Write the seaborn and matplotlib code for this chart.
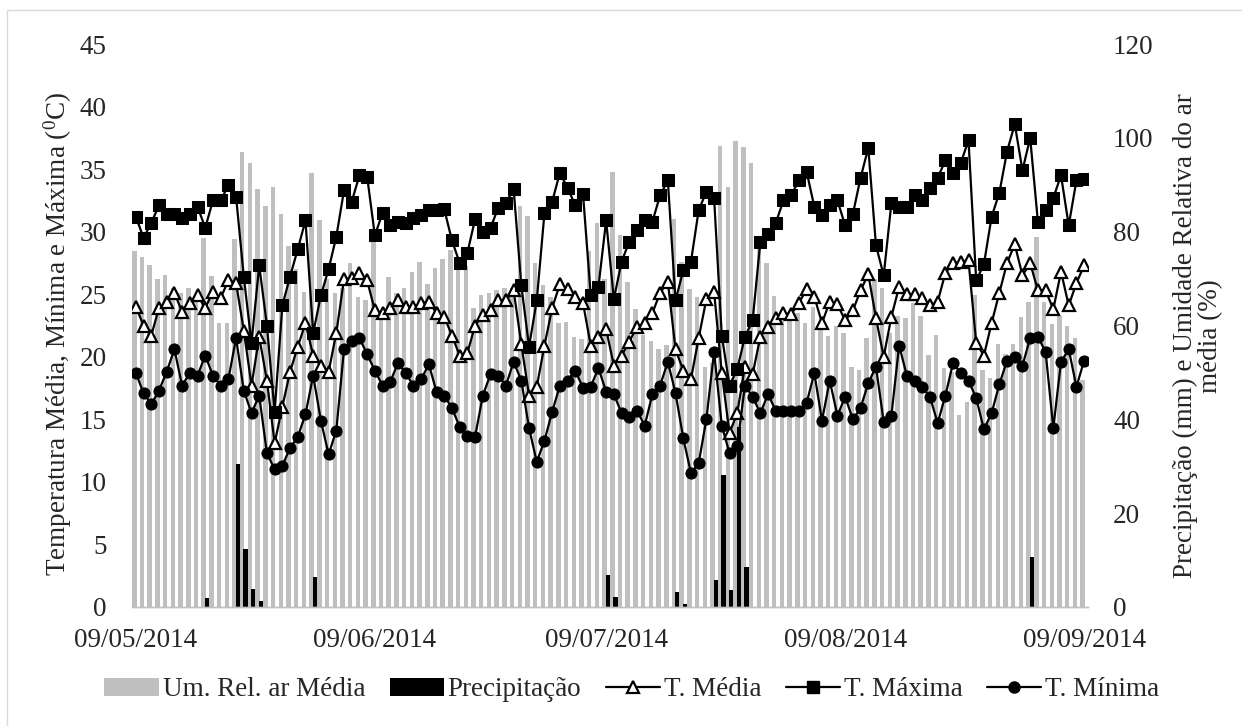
import numpy as np
import pandas as pd
import seaborn as sns
import matplotlib.pyplot as plt
from matplotlib.patches import Patch, Rectangle
from matplotlib.lines import Line2D

sns.set_style("white")
plt.rcParams["font.family"] = ["Liberation Serif", "DejaVu Serif"]

# ---------------------------------------------------------------- dados ---
# diario, de 09/05/2014 a 09/09/2014
datas = pd.date_range("2014-05-09", "2014-09-09", freq="D")

t_max = [31.2, 29.5, 30.7, 32.1, 31.4, 31.4, 31.1, 31.4, 32.0, 30.3,
         32.5, 32.5, 33.7, 32.8, 26.4, 21.1, 27.3, 22.5, 15.6, 24.1,
         26.4, 28.6, 30.9, 21.9, 24.9, 27.0, 29.6, 33.3, 32.4, 34.5,
         34.4, 29.7, 31.5, 30.5, 30.8, 30.7, 31.1, 31.3, 31.7, 31.7,
         31.8, 29.3, 27.5, 28.3, 31.0, 30.0, 30.3, 31.9, 32.3, 33.4,
         25.7, 20.8, 24.5, 31.5, 32.4, 34.7, 33.5, 32.1, 33.0, 24.9,
         25.6, 30.9, 24.6, 27.6, 29.2, 30.1, 30.9, 30.8, 32.9, 34.1,
         24.5, 26.9, 27.6, 31.7, 33.2, 32.7, 21.7, 17.7, 19.0, 21.6,
         22.9, 29.2, 29.8, 30.7, 32.5, 32.9, 34.1, 34.8, 32.0, 31.3,
         32.1, 32.5, 30.5, 31.4, 34.3, 36.7, 28.9, 26.5, 32.3, 32.0,
         32.0, 32.9, 32.5, 33.5, 34.3, 35.7, 34.7, 35.5, 37.3, 26.1,
         27.4, 31.2, 33.1, 36.4, 38.6, 34.9, 37.5, 30.8, 31.7, 32.7,
         34.5, 30.5, 34.1, 34.2]

t_media = [24.0, 22.5, 21.7, 23.9, 24.4, 25.1, 23.6, 24.3, 24.9, 23.9,
           25.2, 24.7, 26.1, 25.9, 22.1, 17.7, 21.6, 18.1, 13.1, 16.0,
           18.8, 20.8, 22.7, 20.1, 19.3, 18.8, 21.9, 26.2, 26.3, 26.7,
           26.1, 23.7, 23.5, 23.9, 24.5, 24.0, 24.0, 24.3, 24.4, 23.5,
           23.2, 21.7, 20.1, 20.3, 22.5, 23.3, 23.7, 24.5, 24.5, 25.3,
           21.0, 16.9, 17.6, 20.9, 23.9, 25.8, 25.4, 24.8, 24.3, 20.9,
           21.6, 22.2, 19.3, 20.1, 21.2, 22.4, 22.7, 23.5, 25.1, 26.0,
           20.6, 18.9, 18.2, 21.5, 24.6, 25.2, 18.7, 13.9, 15.5, 19.2,
           18.6, 21.6, 22.4, 23.1, 23.5, 23.4, 24.3, 25.4, 24.8, 22.7,
           24.4, 24.2, 22.9, 23.7, 25.3, 26.6, 23.1, 20.0, 23.2, 25.6,
           25.0, 25.0, 24.7, 24.1, 24.4, 26.7, 27.5, 27.6, 27.7, 21.1,
           20.1, 22.7, 25.1, 27.5, 29.0, 26.5, 27.5, 25.3, 25.3, 23.8,
           26.8, 24.1, 25.9, 27.3]

t_min = [18.7, 17.1, 16.2, 17.3, 18.8, 20.6, 17.7, 18.7, 18.5, 20.1,
         18.5, 17.7, 18.2, 21.5, 17.3, 15.5, 16.9, 12.3, 11.0, 11.3,
         12.7, 13.6, 15.4, 18.5, 14.9, 12.2, 14.1, 20.6, 21.3, 21.5,
         20.2, 18.9, 17.7, 18.0, 19.5, 18.7, 17.7, 18.2, 19.4, 17.2,
         16.9, 15.9, 14.4, 13.7, 13.6, 16.9, 18.6, 18.5, 17.7, 19.6,
         18.1, 14.3, 11.6, 13.3, 15.6, 17.7, 18.1, 18.9, 17.5, 17.6,
         19.1, 17.2, 17.0, 15.5, 15.2, 15.7, 14.5, 17.0, 17.7, 19.6,
         17.1, 13.5, 10.7, 11.5, 15.0, 20.4, 14.5, 12.3, 12.9, 17.7,
         16.8, 15.5, 17.0, 15.7, 15.7, 15.7, 15.7, 16.3, 18.7, 14.9,
         18.1, 15.3, 16.8, 15.0, 15.9, 17.9, 19.2, 14.8, 15.3, 20.9,
         18.5, 18.1, 17.6, 16.8, 14.7, 16.9, 19.5, 18.7, 18.1, 16.7,
         14.2, 15.5, 17.8, 19.7, 20.0, 19.3, 21.5, 21.6, 20.4, 14.3,
         19.6, 20.6, 17.6, 19.7]

umidade = [75.8, 74.7, 72.9, 69.9, 70.8, 68.0, 67.0, 68.0, 66.0, 78.6,
           70.6, 60.5, 60.5, 78.4, 96.9, 94.7, 89.1, 85.5, 89.6, 83.8,
           77.0, 72.0, 67.2, 92.5, 82.4, 70.0, 67.0, 68.0, 73.3, 66.0,
           65.5, 78.3, 62.0, 70.3, 67.0, 68.0, 71.5, 73.6, 68.9, 72.2,
           74.1, 76.0, 73.0, 72.6, 63.7, 66.5, 67.0, 67.6, 68.0, 68.0,
           85.5, 83.4, 73.3, 68.7, 66.0, 60.5, 60.8, 57.5, 57.1, 75.8,
           81.8, 70.0, 92.8, 79.3, 69.2, 63.5, 58.0, 56.8, 55.0, 55.9,
           82.7, 73.6, 67.7, 66.0, 51.2, 52.0, 98.3, 89.6, 99.4, 98.0,
           94.7, 78.0, 73.3, 66.2, 61.2, 61.2, 62.7, 60.5, 64.0, 60.0,
           57.8, 60.0, 58.5, 51.2, 50.5, 57.3, 70.0, 68.0, 58.3, 62.0,
           61.6, 64.8, 62.0, 53.7, 58.0, 50.9, 50.0, 40.9, 43.8, 66.5,
           50.5, 48.8, 56.1, 54.0, 56.0, 61.8, 65.1, 78.8, 65.0, 60.3,
           62.0, 60.0, 57.3, 48.4]

# precipitacao (mm): so os dias com chuva, o resto e zero
chuva = {9: 1.9, 13: 30.5, 14: 12.3, 15: 3.8, 16: 1.2, 23: 6.3,
         61: 6.8, 62: 2.2, 70: 3.3, 71: 0.6, 75: 5.8, 76: 28.1,
         77: 3.6, 78: 38.4, 79: 8.5, 116: 10.7}

rotulos_x = ["09/05/2014", "09/06/2014", "09/07/2014", "09/08/2014", "09/09/2014"]

df = pd.DataFrame({"dia": np.arange(len(datas)), "data": datas,
                   "t_max": t_max, "t_media": t_media, "t_min": t_min,
                   "umidade": umidade})
df["precip"] = df["dia"].map(chuva).fillna(0.0)
pos_rotulos = [df.index[df["data"] == pd.to_datetime(r, dayfirst=True)][0] for r in rotulos_x]

# ---------------------------------------------------------------- figura ---
W, H = 1242, 726
fig = plt.figure(figsize=(W / 100, H / 100), dpi=100)
fig.patches.append(Rectangle((7 / W, -0.1), 1.2, 1 - 10 / H + 0.1, transform=fig.transFigure,
                             fill=False, edgecolor="#d9d9d9", linewidth=1.0))

ax = fig.add_axes([132 / W, (H - 607) / H, (1088 - 132) / W, (607 - 44) / H])
FS = 19.5
cinza = "#bfbfbf"

# barras (eixo secundario, a direita)
ax.bar(df["dia"] - 0.2, df["umidade"], width=0.58, color=cinza, linewidth=0)
ax.bar(df["dia"] + 0.22, df["precip"], width=0.58, color="black", linewidth=0)
ax.set_xlim(-0.5, len(df) - 0.5)
ax.set_xticks(pos_rotulos)
ax.set_xticklabels(rotulos_x)
ax.set_xticks([p - 0.5 for p in pos_rotulos], minor=True)
ax.tick_params(axis="x", which="major", length=0, pad=15, labelsize=FS)
ax.tick_params(axis="x", which="minor", length=6, width=1, color="#bfbfbf", direction="out")

# temperaturas (eixo principal, a esquerda)
ax2 = ax.twinx()
sns.lineplot(data=df, x="dia", y="t_media", ax=ax2, color="black", linewidth=1.6,
             marker="^", markersize=9, markerfacecolor="white", markeredgecolor="black",
             markeredgewidth=1.6)
sns.lineplot(data=df, x="dia", y="t_max", ax=ax2, color="black", linewidth=1.6,
             marker="s", markersize=8, markerfacecolor="black", markeredgecolor="black")
sns.lineplot(data=df, x="dia", y="t_min", ax=ax2, color="black", linewidth=1.6,
             marker="o", markersize=8, markerfacecolor="black", markeredgecolor="black")
ax2.set_xlabel("")
ax2.set_ylabel("")

# twinx mexe nos lados dos eixos y, entao acerta depois
ax.set_ylim(0, 120)
ax.set_yticks(range(0, 121, 20))
ax.yaxis.tick_right()
ax.tick_params(axis="y", length=0, pad=18, labelsize=FS)
ax2.set_ylim(0, 45)
ax2.set_yticks(range(0, 46, 5))
ax2.yaxis.tick_left()
ax2.tick_params(axis="y", length=0, pad=18, labelsize=FS)

for a in (ax, ax2):
    for lado in ("top", "left", "right"):
        a.spines[lado].set_visible(False)
    a.spines["bottom"].set_color("#bfbfbf")
    a.spines["bottom"].set_linewidth(1.0)

fig.text(58 / W, (H - 334) / H, r"Temperatura Média, Mínima e Máxima ($\mathregular{^0}$C)",
         rotation=90, ha="center", va="center", fontsize=FS)
fig.text(1198 / W, (H - 336) / H, "Precipitação (mm) e Umidade Relativa do ar\nmédia (%)",
         rotation=90, ha="center", va="center", fontsize=FS, linespacing=1.0, multialignment="center")

# legenda
handles = [
    Patch(facecolor=cinza, edgecolor="none"),
    Patch(facecolor="black", edgecolor="none"),
    Line2D([], [], color="black", linewidth=1.6, marker="^", markersize=9,
           markerfacecolor="white", markeredgecolor="black", markeredgewidth=1.6),
    Line2D([], [], color="black", linewidth=1.6, marker="s", markersize=8, markerfacecolor="black"),
    Line2D([], [], color="black", linewidth=1.6, marker="o", markersize=8, markerfacecolor="black"),
]
nomes = ["Um. Rel. ar Média", "Precipitação", "T. Média", "T. Máxima", "T. Mínima"]
fig.legend(handles, nomes, loc="center", bbox_to_anchor=(632 / W, 36 / H), ncol=5,
           frameon=False, fontsize=FS, handlelength=2.0, handletextpad=0.15,
           columnspacing=0.9, handleheight=0.6)

fig.savefig("out.png", dpi=100)
